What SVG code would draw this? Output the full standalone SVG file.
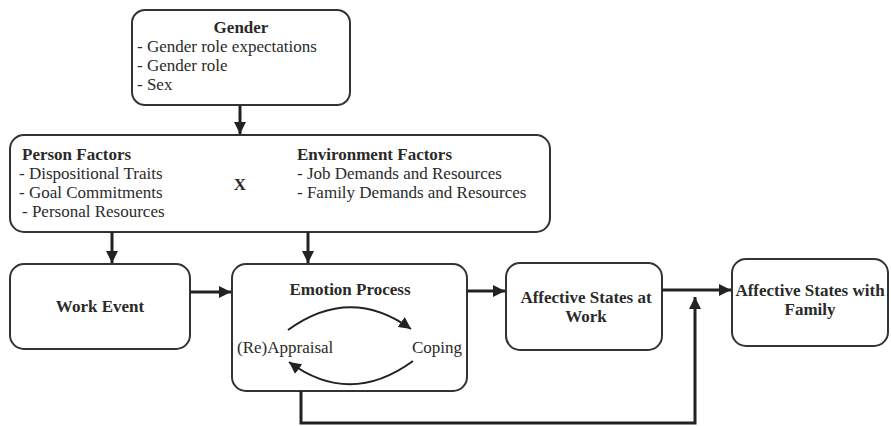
<svg xmlns="http://www.w3.org/2000/svg" width="891" height="426" viewBox="0 0 891 426">
<style>
.box{fill:#fff;stroke:#333;stroke-width:2}
text{font-family:"Liberation Serif","Times New Roman","DejaVu Serif",serif;font-size:17px;fill:#2a2a2a}
.b{font-weight:bold}
.c{text-anchor:middle}
.conn{fill:none;stroke:#222;stroke-width:3}
.arc{fill:none;stroke:#222;stroke-width:2}
</style>
<defs>
<marker id="ah" viewBox="0 0 10 10" refX="10" refY="5" markerWidth="4" markerHeight="4" markerUnits="strokeWidth" orient="auto">
<path d="M0,0 L10,5 L0,10 z" fill="#222"/>
</marker>
<marker id="ah2" viewBox="0 0 10 10" refX="10" refY="5" markerWidth="6" markerHeight="6" markerUnits="strokeWidth" orient="auto">
<path d="M0,0 L10,5 L0,10 z" fill="#222"/>
</marker>
</defs>
<rect width="891" height="426" fill="#fff"/>
<g id="gender">
<rect class="box" x="132" y="10" width="218" height="95" rx="13"/>
<text class="b c" x="241" y="33">Gender</text>
<text x="137" y="52">- Gender role expectations</text>
<text x="137" y="71">- Gender role</text>
<text x="137" y="90">- Sex</text>
</g>
<g id="factors">
<rect class="box" x="10" y="135" width="540" height="97" rx="14"/>
<text class="b" x="22" y="160">Person Factors</text>
<text x="19" y="179">- Dispositional Traits</text>
<text x="19" y="198">- Goal Commitments</text>
<text x="22" y="217">- Personal Resources</text>
<text class="b c" x="240" y="190">X</text>
<text class="b" x="297" y="160">Environment Factors</text>
<text x="297" y="179">- Job Demands and Resources</text>
<text x="297" y="198">- Family Demands and Resources</text>
</g>
<g id="work-event">
<rect class="box" x="10" y="264" width="180" height="85" rx="14"/>
<text class="b c" x="100" y="312">Work Event</text>
</g>
<g id="emotion-process">
<rect class="box" x="232" y="264" width="235" height="127" rx="14"/>
<text class="b c" x="350" y="295">Emotion Process</text>
<text x="237" y="353">(Re)Appraisal</text>
<text x="412" y="353">Coping</text>
<path class="arc" d="M288,330 Q350,285 411,329" marker-end="url(#ah2)"/>
<path class="arc" d="M413,361 Q350,407 289,362" marker-end="url(#ah2)"/>
</g>
<g id="affective-work">
<rect class="box" x="506" y="263" width="156" height="87" rx="14"/>
<text class="b c" x="586" y="303">Affective States at</text>
<text class="b c" x="586" y="322">Work</text>
</g>
<g id="affective-family">
<rect class="box" x="732" y="259" width="156" height="87" rx="14"/>
<text class="b c" x="810" y="296">Affective States with</text>
<text class="b c" x="810" y="315">Family</text>
</g>
<g id="connectors">
<line class="conn" x1="240" y1="106" x2="240" y2="134" marker-end="url(#ah)"/>
<line class="conn" x1="112" y1="232" x2="112" y2="263" marker-end="url(#ah)"/>
<line class="conn" x1="308" y1="232" x2="308" y2="263" marker-end="url(#ah)"/>
<line class="conn" x1="190" y1="292" x2="231" y2="292" marker-end="url(#ah)"/>
<line class="conn" x1="467" y1="291" x2="505" y2="291" marker-end="url(#ah)"/>
<line class="conn" x1="662" y1="290" x2="731" y2="290" marker-end="url(#ah)"/>
<path class="conn" d="M301,391 L301,423 L695,423 L695,297" marker-end="url(#ah)"/>
</g>
</svg>
